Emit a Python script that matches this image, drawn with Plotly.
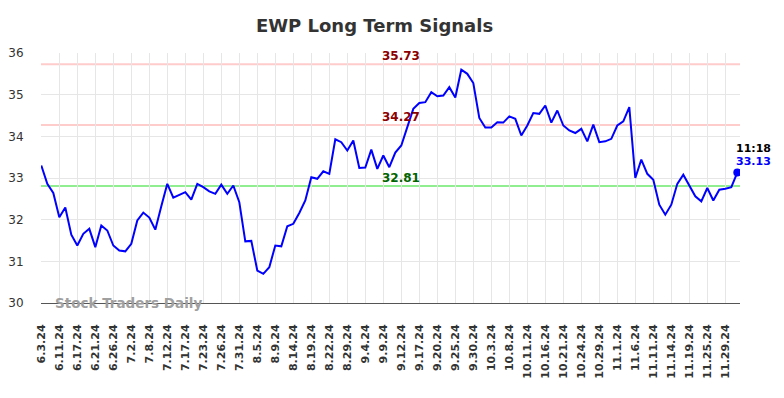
import plotly.graph_objects as go

dates = [
    "6.3.24", "6.5.24", "6.7.24", "6.11.24", "6.13.24", "6.14.24", "6.17.24", "6.18.24", "6.20.24",
    "6.21.24", "6.24.24", "6.25.24", "6.26.24", "6.27.24", "7.1.24", "7.2.24", "7.3.24", "7.5.24",
    "7.8.24", "7.9.24", "7.10.24", "7.12.24", "7.15.24", "7.16.24", "7.17.24", "7.18.24", "7.22.24",
    "7.23.24", "7.24.24", "7.25.24", "7.26.24", "7.29.24", "7.30.24", "7.31.24", "8.1.24", "8.2.24",
    "8.5.24", "8.6.24", "8.8.24", "8.9.24", "8.12.24", "8.13.24", "8.14.24", "8.15.24", "8.16.24",
    "8.19.24", "8.20.24", "8.21.24", "8.22.24", "8.26.24", "8.28.24", "8.29.24", "8.30.24", "9.3.24",
    "9.4.24", "9.5.24", "9.6.24", "9.9.24", "9.10.24", "9.11.24", "9.12.24", "9.13.24", "9.16.24",
    "9.17.24", "9.18.24", "9.19.24", "9.20.24", "9.23.24", "9.24.24", "9.25.24", "9.26.24", "9.27.24",
    "9.30.24", "10.1.24", "10.2.24", "10.3.24", "10.4.24", "10.7.24", "10.8.24", "10.9.24", "10.10.24",
    "10.11.24", "10.14.24", "10.15.24", "10.16.24", "10.17.24", "10.18.24", "10.21.24", "10.22.24", "10.23.24",
    "10.24.24", "10.25.24", "10.28.24", "10.29.24", "10.30.24", "10.31.24", "11.1.24", "11.4.24", "11.5.24",
    "11.6.24", "11.7.24", "11.8.24", "11.11.24", "11.12.24", "11.13.24", "11.14.24", "11.15.24", "11.18.24",
    "11.19.24", "11.20.24", "11.22.24", "11.25.24", "11.26.24", "11.27.24", "11.29.24", "12.2.24", "12.3.24",
]

prices = [
    33.30, 32.86, 32.64, 32.06, 32.29, 31.64, 31.38, 31.66, 31.78, 31.34,
    31.86, 31.74, 31.38, 31.26, 31.24, 31.42, 31.98, 32.17, 32.05, 31.76,
    32.32, 32.86, 32.53, 32.60, 32.66, 32.48, 32.86, 32.78, 32.68, 32.62,
    32.84, 32.62, 32.82, 32.42, 31.48, 31.49, 30.78, 30.70, 30.86, 31.38,
    31.36, 31.84, 31.90, 32.16, 32.46, 33.02, 32.98, 33.16, 33.10, 33.93,
    33.86, 33.66, 33.90, 33.24, 33.25, 33.68, 33.22, 33.54, 33.26, 33.61,
    33.78, 34.22, 34.66, 34.80, 34.82, 35.06, 34.96, 34.98, 35.18, 34.93,
    35.60, 35.50, 35.28, 34.44, 34.21, 34.21, 34.34, 34.33, 34.48, 34.42,
    34.02, 34.26, 34.56, 34.54, 34.74, 34.33, 34.62, 34.26, 34.14, 34.08,
    34.18, 33.88, 34.28, 33.86, 33.88, 33.94, 34.26, 34.36, 34.70, 33.00,
    33.44, 33.10, 32.96, 32.36, 32.12, 32.36, 32.86, 33.08, 32.82, 32.56,
    32.44, 32.76, 32.46, 32.72, 32.74, 32.78, 33.13,
]

tick_labels = [
    "6.3.24", "6.11.24", "6.17.24", "6.21.24", "6.26.24", "7.2.24", "7.8.24", "7.12.24", "7.17.24",
    "7.23.24", "7.26.24", "7.31.24", "8.5.24", "8.9.24", "8.14.24", "8.19.24", "8.22.24", "8.29.24",
    "9.4.24", "9.9.24", "9.12.24", "9.17.24", "9.20.24", "9.25.24", "9.30.24", "10.3.24", "10.8.24",
    "10.11.24", "10.16.24", "10.21.24", "10.24.24", "10.29.24", "11.1.24", "11.6.24", "11.11.24",
    "11.14.24", "11.19.24", "11.25.24", "11.29.24",
]

resistance_high = 35.73
resistance_low = 34.27
support = 32.81
last_time = "11:18"
label_date = "9.12.24"

FONT = "DejaVu Sans"

fig = go.Figure()
fig.add_trace(go.Scatter(
    x=dates, y=prices, mode="lines",
    line=dict(color="#0000ff", width=2),
    hoverinfo="skip", showlegend=False,
))
fig.add_trace(go.Scatter(
    x=[dates[-1]], y=[prices[-1]], mode="markers",
    marker=dict(color="#0000ff", size=8),
    hoverinfo="skip", showlegend=False,
))

for val, col in [(resistance_high, "#ffcccc"), (resistance_low, "#ffcccc"), (support, "#90ee90")]:
    fig.add_shape(type="line", xref="paper", x0=0, x1=1, yref="y", y0=val, y1=val,
                  line=dict(color=col, width=2), layer="below")

for val, col in [(resistance_high, "#8b0000"), (resistance_low, "#8b0000"), (support, "#006400")]:
    fig.add_annotation(x=label_date, y=val, text=f"{val:.2f}", showarrow=False,
                       yanchor="bottom", xanchor="center", yshift=-1,
                       font=dict(family=FONT, size=12, color=col, weight="bold"))

fig.add_annotation(x=dates[-1], y=prices[-1], text=f"{prices[-1]:.2f}", showarrow=False,
                   xanchor="left", yanchor="bottom", xshift=-3, yshift=3,
                   font=dict(family=FONT, size=11, color="#0000ff", weight="bold"))
fig.add_annotation(x=dates[-1], y=prices[-1], text=last_time, showarrow=False,
                   xanchor="left", yanchor="bottom", xshift=-3, yshift=16,
                   font=dict(family=FONT, size=11, color="#000000", weight="bold"))

fig.add_annotation(xref="paper", yref="paper", x=0.017, y=0.0, text="Stock Traders Daily",
                   showarrow=False, xanchor="left", yanchor="middle",
                   font=dict(family=FONT, size=13.5, color="#a0a0a0", weight="bold"))

# the page body adds an 8px offset; margins are set so the plot lands where the reference has it
fig.update_layout(
    width=784, height=398,
    margin=dict(l=33, r=52, t=45, b=103, autoexpand=False),
    paper_bgcolor="white", plot_bgcolor="white",
    title=dict(text="EWP Long Term Signals", x=0.4675, xanchor="center", y=0.955, yanchor="middle",
               font=dict(family=FONT, size=18, color="#333333", weight="bold")),
    font=dict(family=FONT),
)
fig.update_xaxes(
    type="category", categoryorder="array", categoryarray=dates,
    tickmode="array", tickvals=tick_labels, ticktext=tick_labels,
    tickangle=-90, tickfont=dict(family=FONT, size=11, color="#333333", weight="bold"),
    ticks="outside", ticklen=16, tickcolor="rgba(0,0,0,0)",
    showgrid=True, gridcolor="#e6e6e6", gridwidth=1,
    showline=True, linecolor="#555555", linewidth=1,
    range=[-0.05, len(dates) - 0.55], zeroline=False,
)
fig.update_yaxes(
    range=[30, 36], tickmode="array", tickvals=[30, 31, 32, 33, 34, 35, 36],
    tickfont=dict(family=FONT, size=12, color="#333333"),
    showgrid=True, gridcolor="#e6e6e6", gridwidth=1,
    zeroline=False, showline=False, ticks="outside", ticklen=14, tickcolor="rgba(0,0,0,0)",
)

fig.write_html("out.html")
